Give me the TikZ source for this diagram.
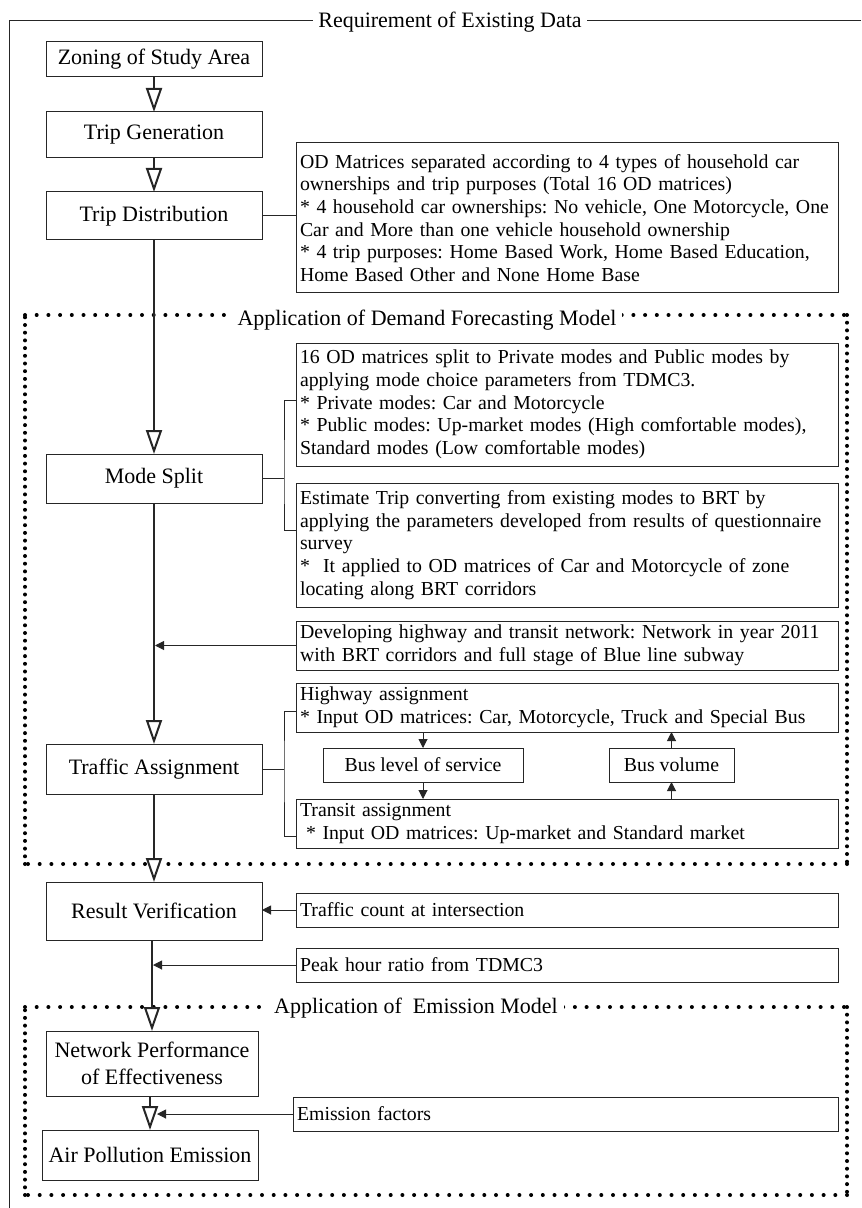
\documentclass[tikz,border=0pt]{standalone}
\usepackage{fontspec}
\setmainfont{Liberation Serif}
\usetikzlibrary{positioning, arrows.meta, calc}
\frenchspacing

\begin{document}
\begin{tikzpicture}[
    x=0.5pt, y=-0.5pt,
    % Node styles
    mainbox/.style={
        rectangle,
        draw=black!85,
        line width=0.5pt,
        outer sep=0pt,
        minimum width=108pt,
        inner sep=1pt,
        align=center,
        font=\fontsize{11}{13.5}\selectfont
    },
    notebox/.style={
        rectangle,
        draw=black!85,
        line width=0.5pt,
        outer sep=0pt,
        minimum width=271pt,
        text width=267pt,
        inner xsep=2pt,
        inner ysep=1pt,
        align=left,
        anchor=north west,
        font=\fontsize{9.9}{11.35}\selectfont
    },
    smallbox/.style={
        rectangle,
        draw=black!85,
        line width=0.5pt,
        outer sep=0pt,
        minimum height=17pt,
        inner sep=1pt,
        anchor=north west,
        font=\fontsize{9.9}{11.35}\selectfont
    },
    frametitle/.style={
        fill=white,
        inner xsep=3pt,
        inner ysep=1pt,
        anchor=base,
        font=\fontsize{11}{13}\selectfont
    },
    flow/.style={
        -{Triangle[open, fill=white, length=12pt, width=8pt]},
        line width=1pt,
        draw=black!85
    },
    feed/.style={
        -{Triangle[length=4.5pt, width=4.5pt]},
        line width=0.5pt,
        draw=black!85
    },
    link/.style={
        line width=0.5pt,
        draw=black!85
    },
    dotsh/.style={
        line width=2pt, line cap=round,
        dash pattern=on 0pt off 5.85pt
    },
    dotsv/.style={
        line width=2pt, line cap=round,
        dash pattern=on 0pt off 3.85pt
    }
]
\useasboundingbox (0,0) rectangle (861,1208);

% Outer frame (top and left edges)
\draw[link] (861,21) -- (9,21) -- (9,1208);
\node[frametitle, inner xsep=2.5pt] (reqtitle) at (450,28) {Requirement of Existing Data};

% Dotted frames
\draw[dotsh] (25,315) -- (847,315);
\draw[dotsv] (847,315) -- (847,864);
\draw[dotsh] (847,864) -- (25,864);
\draw[dotsv] (25,864) -- (25,315);
\node[frametitle] (demtitle) at (427,325) {Application of Demand Forecasting Model};

\draw[dotsh] (25,1007) -- (847,1007);
\draw[dotsv] (847,1007) -- (847,1195);
\draw[dotsh] (847,1195) -- (25,1195);
\draw[dotsv] (25,1195) -- (25,1007);
\node[frametitle] (emititle) at (416,1013) {Application of\ \ Emission Model};

% Main steps
\node[mainbox, minimum height=17.5pt] (zoning) at (154,59.5) {Zoning of Study Area};
\node[mainbox, minimum height=23pt, below=17.5pt of zoning] (tripgen) {Trip Generation};
\node[mainbox, minimum height=24pt, below=17pt of tripgen] (tripdist) {Trip Distribution};
\node[mainbox, minimum height=24.5pt, below=107pt of tripdist] (modesplit) {Mode Split};
\node[mainbox, minimum height=25pt, below=120.5pt of modesplit] (trafassign) {Traffic Assignment};
\node[mainbox, minimum height=29pt, below=44pt of trafassign] (resultver) {Result Verification};
\node[mainbox, minimum height=32.5pt, minimum width=106pt, below=45.5pt of resultver, xshift=-1pt] (netperf) {Network Performance\\of Effectiveness};
\node[mainbox, minimum height=25pt, below=17pt of netperf, xshift=-1pt] (airpol) {Air Pollution Emission};

% Side notes
\node[notebox, minimum height=75pt] (odbox) at (296,143) {OD Matrices separated according to 4 types of household car\\
ownerships and trip purposes (Total 16 OD matrices)\\{}
* 4 household car ownerships: No vehicle, One Motorcycle, One\\
Car and More than one vehicle household ownership\\{}
* 4 trip purposes: Home Based Work, Home Based Education,\\
Home Based Other and None Home Base};

\node[notebox, minimum height=61.5pt] (splitbox) at (296,343) {16 OD matrices split to Private modes and Public modes by\\
applying mode choice parameters from TDMC3.\\{}
* Private modes: Car and Motorcycle\\{}
* Public modes: Up-market modes (High comfortable modes),\\
Standard modes (Low comfortable modes)};

\node[notebox, minimum height=62pt] (brtbox) at (296,483) {Estimate Trip converting from existing modes to BRT by\\
applying the parameters developed from results of questionnaire\\
survey\\{}
*\ \ It applied to OD matrices of Car and Motorcycle of zone\\
locating along BRT corridors};

\node[notebox, minimum height=24.5pt] (netbox) at (296,621) {Developing highway and transit network: Network in year 2011\\
with BRT corridors and full stage of Blue line subway};

\node[notebox, minimum height=24.5pt] (hwybox) at (296,683) {Highway assignment\\{}
* Input OD matrices: Car, Motorcycle, Truck and Special Bus};

\node[smallbox, minimum width=100pt] (buslos) at (323,748) {Bus level of service};
\node[smallbox, minimum width=62.5pt] (busvol) at (609,748) {Bus volume};

\node[notebox, minimum height=24.5pt] (transitbox) at (296,799) {Transit assignment\\
\hspace*{3pt}* Input OD matrices: Up-market and Standard market};

\node[notebox, minimum height=17pt] (countbox) at (296,893) {Traffic count at intersection};
\node[notebox, minimum height=17pt] (peakbox) at (296,948) {Peak hour ratio from TDMC3};
\node[notebox, minimum height=17pt, minimum width=272.5pt, text width=268.5pt] (emisbox) at (293,1097) {Emission factors};

% Main flow
\draw[flow] (zoning) -- (tripgen);
\draw[flow] (tripgen) -- (tripdist);
\draw[flow] (tripdist) -- (modesplit);
\draw[flow] (modesplit) -- (trafassign);
\draw[flow] (trafassign) -- (resultver);
\draw[flow] (resultver.south -| netperf.north) -- (netperf.north);
\draw[flow] (netperf.south -| airpol.north) -- (airpol.north);

% Links to notes
\draw[link] (tripdist.east) -- (tripdist.east -| odbox.west);

\coordinate (msfork) at ($(modesplit.east)+(22,0)$);
\draw[link, line width=0.8pt] (modesplit.east) -- (msfork);
\draw[link] (splitbox.west |- 0,400) -| (msfork) |- (brtbox.west |- 0,530);

\coordinate (tafork) at ($(trafassign.east)+(22,0)$);
\draw[link] (trafassign.east) -- (tafork);
\draw[link] (hwybox.west |- 0,711) -| (tafork) |- (transitbox.west |- 0,836);

% Inputs
\draw[feed] (netbox.west) -- ($(modesplit.south |- netbox.west)+(1,0)$);
\draw[feed] (hwybox.south -| buslos.north) -- (buslos.north);
\draw[feed] (buslos.south) -- (buslos.south |- transitbox.north);
\draw[feed] (transitbox.north -| busvol.south) -- (busvol.south);
\draw[feed] (busvol.north) -- (busvol.north |- hwybox.south);
\draw[feed] (countbox.west) -- (countbox.west -| resultver.east);
\draw[feed] (peakbox.west) -- ($(peakbox.west -| netperf.north)+(1,0)$);
\draw[feed] (emisbox.west) -- ($(emisbox.west -| airpol.north)+(7,0)$);

\end{tikzpicture}
\end{document}
